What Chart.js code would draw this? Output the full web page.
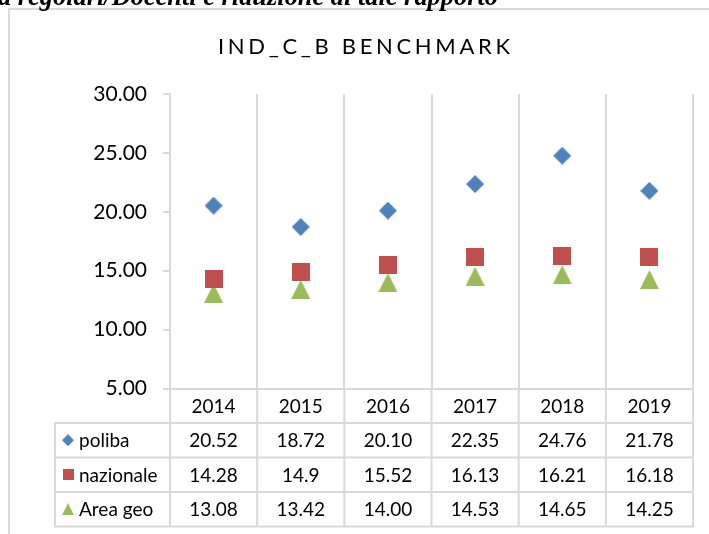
<!DOCTYPE html>
<html><head><meta charset="utf-8">
<script src="https://cdn.jsdelivr.net/npm/chart.js@4.4.0/dist/chart.umd.min.js"></script>
<style>html,body{margin:0;padding:0;background:#fff;overflow:hidden}#wrap{width:709px;height:534px}</style>
</head><body><div id="wrap"><canvas id="c" width="709" height="534"></canvas></div>
<script>
// ---- data ----
const categories = ["2014", "2015", "2016", "2017", "2018", "2019"];
const seriesNames = ["poliba", "nazionale", "Area geo"];
const polibaText = ["20.52", "18.72", "20.10", "22.35", "24.76", "21.78"];
const nazionaleText = ["14.28", "14.9", "15.52", "16.13", "16.21", "16.18"];
const areaGeoText = ["13.08", "13.42", "14.00", "14.53", "14.65", "14.25"];
const poliba = polibaText.map(Number);
const nazionale = nazionaleText.map(Number);
const areaGeo = areaGeoText.map(Number);
const yMin = 5, yMax = 30, yStep = 5;
const chartTitle = "IND_C_B BENCHMARK";
const headerText = "a regolari/Docenti e riduzione di tale rapporto";

// ---- styles ----
const colors = ["#4F81BD", "#C0504D", "#9BBB59"];
const gridColor = "#d9d9d9";
const FONT = "Lato, 'Open Sans', sans-serif";

function markerCanvas(kind, size, color) {
  const c = document.createElement('canvas');
  c.width = size; c.height = size;
  const g = c.getContext('2d');
  g.fillStyle = color;
  g.beginPath();
  if (kind === 'diamond') {
    g.moveTo(size / 2, 0); g.lineTo(size, size / 2); g.lineTo(size / 2, size); g.lineTo(0, size / 2);
  } else if (kind === 'square') {
    g.rect(0, 0, size, size);
  } else {
    g.moveTo(size / 2, 0); g.lineTo(size, size); g.lineTo(0, size);
  }
  g.closePath(); g.fill();
  return c;
}
const bigMarkers = [markerCanvas('diamond', 18, colors[0]), markerCanvas('square', 18, colors[1]), markerCanvas('triangle', 19, colors[2])];
const smallMarkers = [markerCanvas('diamond', 12, colors[0]), markerCanvas('square', 11, colors[1]), markerCanvas('triangle', 12, colors[2])];
const tableTexts = [polibaText, nazionaleText, areaGeoText];

const decor = {
  id: 'decor',
  beforeDraw(chart) {
    const ctx = chart.ctx;
    ctx.save();
    ctx.fillStyle = '#fff';
    ctx.fillRect(0, 0, chart.width, chart.height);
    // frame
    ctx.strokeStyle = gridColor; ctx.lineWidth = 2;
    ctx.beginPath(); ctx.moveTo(9, chart.height); ctx.lineTo(9, 9); ctx.lineTo(chart.width, 9); ctx.stroke();
    // cut header text
    ctx.fillStyle = '#000';
    ctx.font = "bold italic 22px 'Liberation Serif', serif";
    const hw = ctx.measureText(headerText).width;
    const hs = 22 * 500 / hw;
    ctx.font = "bold italic " + hs.toFixed(1) + "px 'Liberation Serif', serif";
    ctx.textBaseline = 'alphabetic'; ctx.textAlign = 'left';
    ctx.fillText(headerText, -2, 5);
    // title
    ctx.font = "22px " + FONT;
    ctx.textAlign = 'left';
    const natural = ctx.measureText(chartTitle).width;
    const targetW = 292;
    const sp = (targetW - natural) / (chartTitle.length - 1);
    ctx.letterSpacing = sp + 'px';
    ctx.textBaseline = 'middle';
    ctx.fillStyle = '#000';
    ctx.fillText(chartTitle, 364 - targetW / 2, 47);
    ctx.letterSpacing = '0px';
    ctx.restore();
  },
  afterDraw(chart) {
    const ctx = chart.ctx;
    const xs = chart.scales.x, ys = chart.scales.y;
    const n = categories.length;
    const cx = categories.map((_, i) => xs.getPixelForValue(i));
    const half = (cx[1] - cx[0]) / 2;
    const bounds = cx.map(v => v - half).concat([cx[n - 1] + half]);
    const top = ys.getPixelForValue(yMin);
    const rowH = 34.5;
    const legendLeft = 55;
    const rows = [top, top + rowH, top + 2 * rowH, top + 3 * rowH, top + 4 * rowH];
    ctx.save();
    ctx.strokeStyle = gridColor; ctx.lineWidth = 2;
    ctx.beginPath();
    bounds.forEach(b => { ctx.moveTo(b, top); ctx.lineTo(b, rows[4]); });
    ctx.moveTo(legendLeft, rows[1]); ctx.lineTo(legendLeft, rows[4]);
    for (let r = 1; r <= 4; r++) { ctx.moveTo(legendLeft - 1, rows[r]); ctx.lineTo(bounds[n] + 1, rows[r]); }
    ctx.stroke();
    ctx.fillStyle = '#000';
    ctx.font = "19px " + FONT;
    ctx.textBaseline = 'middle'; ctx.textAlign = 'center';
    categories.forEach((c, i) => ctx.fillText(c, cx[i], (rows[0] + rows[1]) / 2 + 1));
    tableTexts.forEach((arr, s) => {
      const yMid = (rows[s + 1] + rows[s + 2]) / 2 + 1;
      arr.forEach((t, i) => ctx.fillText(t, cx[i], yMid));
    });
    ctx.textAlign = 'left';
    seriesNames.forEach((name, s) => {
      const yMid = (rows[s + 1] + rows[s + 2]) / 2;
      const m = smallMarkers[s];
      ctx.drawImage(m, 68 - m.width / 2, yMid - m.height / 2);
      ctx.fillText(name, 79, yMid + 1);
    });
    ctx.restore();
  }
};

const datasets = [poliba, nazionale, areaGeo].map((d, s) => ({
  label: seriesNames[s],
  data: d,
  showLine: false,
  pointStyle: bigMarkers[s],
  pointRadius: 9,
  pointHoverRadius: 9,
  backgroundColor: colors[s],
  borderColor: colors[s]
}));

new Chart(document.getElementById('c'), {
  type: 'line',
  data: { labels: categories, datasets },
  options: {
    responsive: false,
    devicePixelRatio: 1,
    animation: false,
    events: [],
    layout: { padding: { left: 0, right: 16, top: 94, bottom: 145.5 } },
    plugins: { legend: { display: false }, title: { display: false }, tooltip: { enabled: false } },
    scales: {
      x: {
        type: 'category',
        offset: true,
        grid: { offset: true, color: gridColor, lineWidth: 2, drawTicks: false, drawOnChartArea: true },
        border: { display: true, color: gridColor, width: 2 },
        ticks: { display: false },
        afterFit(scale) { scale.height = 0; }
      },
      y: {
        min: yMin, max: yMax,
        ticks: { stepSize: yStep, padding: 16, color: '#000', font: { family: FONT, size: 21 }, callback: v => Number(v).toFixed(2) },
        grid: { drawOnChartArea: false, drawTicks: true, tickLength: 7, color: gridColor, lineWidth: 2 },
        border: { display: true, color: gridColor, width: 2 },
        afterFit(scale) { scale.width = 170; }
      }
    }
  },
  plugins: [decor]
});
</script>
</body></html>
